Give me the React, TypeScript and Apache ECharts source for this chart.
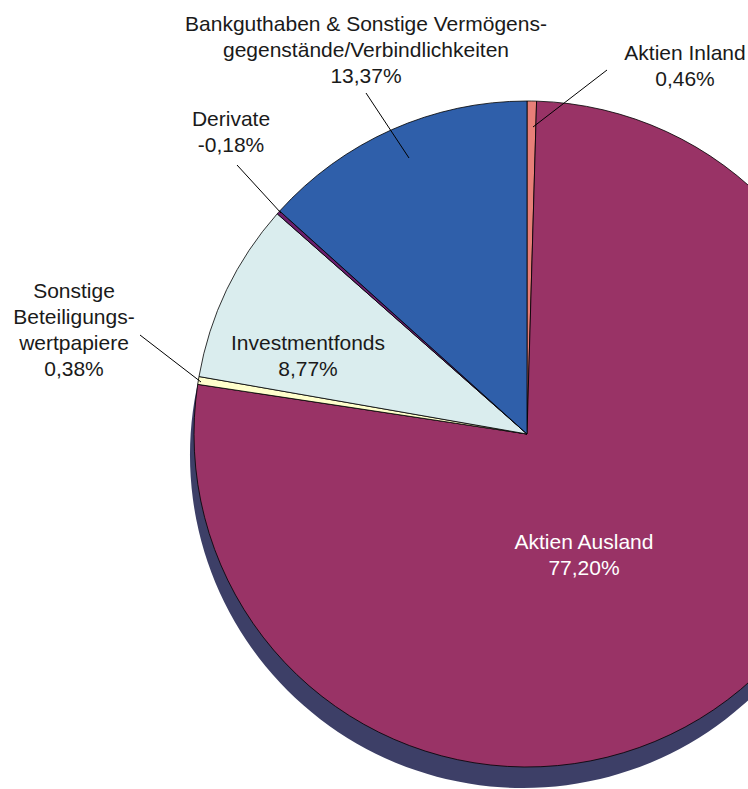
import React, { useEffect, useRef } from "react";
import * as echarts from "echarts";

const categories = [
  "Aktien Inland",
  "Aktien Ausland",
  "Sonstige\nBeteiligungs-\nwertpapiere",
  "Investmentfonds",
  "Derivate",
  "Bankguthaben & Sonstige Vermögens-\ngegenstände/Verbindlichkeiten",
];
const values = [0.46, 77.2, 0.38, 8.77, -0.18, 13.37];
const colors = ["#E87F78", "#993366", "#FFFFCC", "#DAEDEE", "#6A1E6C", "#2F5FAA"];
const labelColors = ["#1a1a1a", "#ffffff", "#1a1a1a", "#1a1a1a", "#1a1a1a", "#1a1a1a"];
// label centres (layout only)
const labelPos = [
  [685, 65],
  [584, 554],
  [74, 329],
  [308, 355],
  [231, 131],
  [366, 49],
];
const leaderLines = [
  [607, 70, 533, 127],
  null,
  [140, 335, 201, 382],
  null,
  [237, 165, 281, 213],
  [366, 93, 409, 158],
];

const fmt = (v: number) => v.toFixed(2).replace(".", ",") + "%";

export default function App() {
  const ref = useRef<HTMLDivElement>(null);
  useEffect(() => {
    if (!ref.current) return;
    const chart = echarts.init(ref.current, null, { renderer: "svg" });
    const font = "'Liberation Sans', Arial, Helvetica, sans-serif";
    chart.setOption({
      animation: false,
      backgroundColor: "#ffffff",
      graphic: leaderLines
        .filter((l) => l)
        .map((l: any) => ({
          type: "line",
          z: 10,
          shape: { x1: l[0], y1: l[1], x2: l[2], y2: l[3] },
          style: { stroke: "#000", lineWidth: 1 },
        })),
      series: [
        {
          type: "pie",
          silent: true,
          z: 1,
          center: [523, 455],
          radius: 333,
          startAngle: 90,
          label: { show: false },
          labelLine: { show: false },
          itemStyle: { color: "#3D3F67", borderWidth: 0 },
          data: [{ value: 1, name: "shadow" }],
        },
        {
          type: "pie",
          z: 2,
          center: [527, 434],
          radius: 333,
          startAngle: 90,
          clockwise: true,
          minAngle: 0,
          avoidLabelOverlap: false,
          itemStyle: { borderColor: "#000", borderWidth: 0.8 },
          labelLine: { show: false },
          label: {
            show: true,
            position: "inside",
            fontFamily: font,
            fontSize: 21,
            lineHeight: 26,
            align: "center",
            formatter: (p: any) => p.name + "\n" + fmt(values[p.dataIndex]),
          },
          labelLayout: (p: any) => ({
            x: labelPos[p.dataIndex][0],
            y: labelPos[p.dataIndex][1],
            align: "center",
            verticalAlign: "middle",
          }),
          emphasis: { disabled: true },
          data: categories.map((c, i) => ({
            name: c,
            value: Math.abs(values[i]),
            itemStyle: { color: colors[i] },
            label: { color: labelColors[i] },
          })),
        },
      ],
    });
    return () => chart.dispose();
  }, []);
  return (
    <div
      ref={ref}
      style={{ position: "absolute", left: 0, top: 0, width: 748, height: 789 }}
    />
  );
}
